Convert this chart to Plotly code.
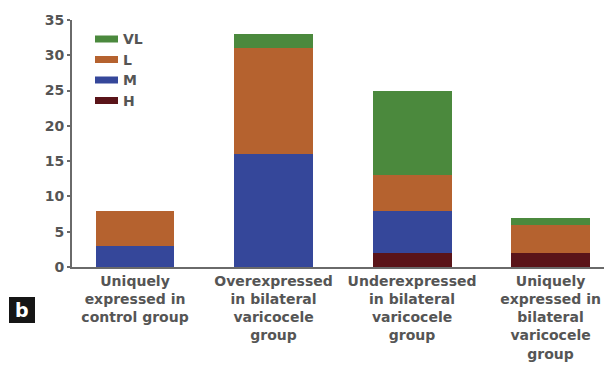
import plotly.graph_objects as go

# Expression-level counts per protein group (stacked: H at bottom, VL on top)
categories = [
    "Uniquely<br>expressed in<br>control group",
    "Overexpressed<br>in bilateral<br>varicocele<br>group",
    "Underexpressed<br>in bilateral<br>varicocele<br>group",
    "Uniquely<br>expressed in<br>bilateral<br>varicocele<br>group",
]
series_names = ["H", "M", "L", "VL"]
h_values = [0, 0, 2, 2]
m_values = [3, 16, 6, 0]
l_values = [5, 15, 5, 4]
vl_values = [0, 2, 12, 1]
series_colors = ["#5a1419", "#35479a", "#b5622f", "#4b893d"]
y_ticks = [0, 5, 10, 15, 20, 25, 30, 35]

W, H = 604, 372
ML, MR, MT, MB = 72, 0, 20, 105
font_family = "DejaVu Sans, Verdana, sans-serif"
text_color = "#555555"

x_idx = list(range(len(categories)))
fig = go.Figure()
for name, vals, col in zip(series_names, [h_values, m_values, l_values, vl_values], series_colors):
    fig.add_trace(go.Bar(x=x_idx, y=vals, name=name, marker=dict(color=col, line=dict(width=0)),
                         width=0.57, showlegend=False))

fig.update_layout(
    barmode="stack",
    width=W, height=H,
    margin=dict(l=ML, r=MR, t=MT, b=MB),
    paper_bgcolor="white", plot_bgcolor="white",
    font=dict(family=font_family, color=text_color, size=14, weight=700),
    xaxis=dict(
        range=[-0.455, 3.386], tickmode="array", tickvals=x_idx, ticktext=categories,
        showline=True, linecolor="#6a6a6a", linewidth=2, ticks="", showgrid=False,
        zeroline=False, tickfont=dict(size=14, color=text_color, weight=700),
    ),
    yaxis=dict(
        range=[0, 35], tickmode="array", tickvals=y_ticks,
        showline=True, linecolor="#6a6a6a", linewidth=2, ticks="outside", ticklen=3,
        tickcolor="#6a6a6a", tickwidth=2, showgrid=False, zeroline=False,
        tickfont=dict(size=14, color=text_color, weight=700),
    ),
)

# Legend drawn as swatches + labels, top-left inside the plot (VL listed first)
plot_w = W - ML - MR
plot_h = H - MT - MB
legend_order = ["VL", "L", "M", "H"]
legend_y = [39, 59.5, 80, 100.5]
for name, py in zip(legend_order, legend_y):
    col = series_colors[series_names.index(name)]
    y0 = (H - MB - (py + 3.5)) / plot_h
    y1 = (H - MB - (py - 3.5)) / plot_h
    fig.add_shape(type="rect", xref="paper", yref="paper",
                  x0=(95 - ML) / plot_w, x1=(118 - ML) / plot_w, y0=y0, y1=y1,
                  fillcolor=col, line=dict(width=0))
    fig.add_annotation(xref="paper", yref="paper", x=(121 - ML) / plot_w,
                       y=(H - MB - py) / plot_h, text=name, showarrow=False,
                       xanchor="left", yanchor="middle",
                       font=dict(size=14, color=text_color, family=font_family, weight=700))

# Panel letter in a dark box
fig.add_shape(type="rect", xref="paper", yref="paper",
              x0=(9 - ML) / plot_w, x1=(35 - ML) / plot_w,
              y0=(H - MB - 323) / plot_h, y1=(H - MB - 297) / plot_h,
              fillcolor="#151515", line=dict(width=0))
fig.add_annotation(xref="paper", yref="paper", x=(22 - ML) / plot_w, y=(H - MB - 310) / plot_h,
                   text="b", showarrow=False, xanchor="center", yanchor="middle",
                   font=dict(size=19, color="white", family=font_family, weight=700))

fig.write_html("out.html")
